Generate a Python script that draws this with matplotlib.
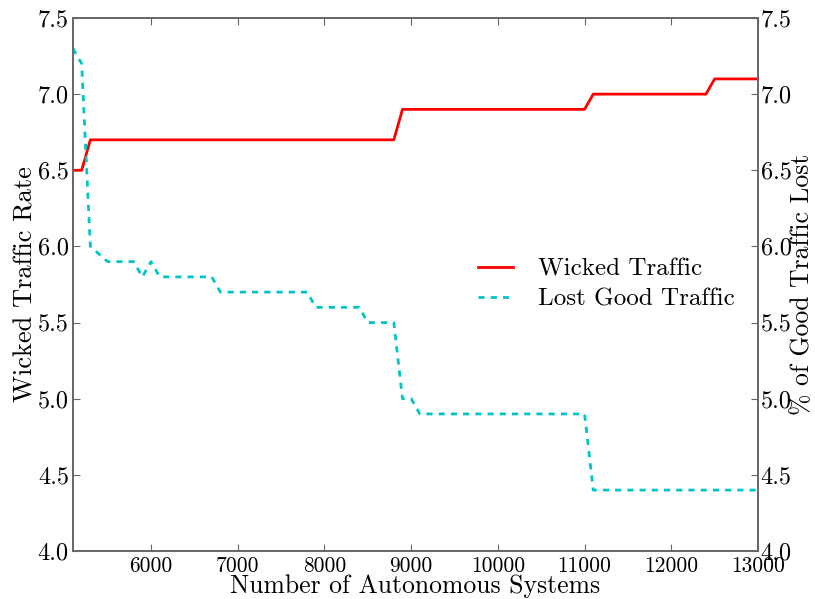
import matplotlib
matplotlib.use("Agg")
import matplotlib.pyplot as plt
from matplotlib.ticker import FormatStrFormatter, FixedLocator

plt.rcParams['font.family'] = 'serif'
plt.rcParams['font.serif'] = ['cmr10', 'DejaVu Serif']
plt.rcParams['mathtext.fontset'] = 'cm'
plt.rcParams['axes.unicode_minus'] = False

# data
x_wicked = [5100, 5200, 5300, 8800, 8900, 11000, 11100, 12400, 12500, 13000]
wicked = [6.5, 6.5, 6.7, 6.7, 6.9, 6.9, 7.0, 7.0, 7.1, 7.1]

x_lost = [5100, 5200, 5300, 5500, 5800, 5900, 6000, 6100, 6700, 6800, 7800,
          7900, 8400, 8500, 8800, 8900, 9000, 9100, 11000, 11100, 13000]
lost = [7.3, 7.2, 6.0, 5.9, 5.9, 5.8, 5.9, 5.8, 5.8, 5.7, 5.7,
        5.6, 5.6, 5.5, 5.5, 5.0, 5.0, 4.9, 4.9, 4.4, 4.4]

x_ticks = [6000, 7000, 8000, 9000, 10000, 11000, 12000, 13000]
y_ticks = [4.0, 4.5, 5.0, 5.5, 6.0, 6.5, 7.0, 7.5]

fig = plt.figure(figsize=(8.15, 5.99), dpi=100)
ax = fig.add_axes([73/815, 1-551/599, (758-73)/815, (551-18)/599])
ax2 = ax.twinx()

spine_col = '#666666'
for a in (ax, ax2):
    for s in a.spines.values():
        s.set_color(spine_col)
        s.set_linewidth(1.2)

l1, = ax.plot(x_wicked, wicked, color='#ff0000', lw=2, label='Wicked Traffic')
l2, = ax2.plot(x_lost, lost, color='#00c5c5', lw=2, ls=(0, (2.2, 2.2)),
               label='Lost Good Traffic')

ax.set_xlim(5100, 13000)
ax.set_ylim(4.0, 7.5)
ax2.set_ylim(4.0, 7.5)
ax.xaxis.set_major_locator(FixedLocator(x_ticks))
ax.yaxis.set_major_locator(FixedLocator(y_ticks))
ax2.yaxis.set_major_locator(FixedLocator(y_ticks))
ax.yaxis.set_major_formatter(FormatStrFormatter('%.1f'))
ax2.yaxis.set_major_formatter(FormatStrFormatter('%.1f'))

ax.tick_params(axis='x', direction='in', top=True, length=5, color=spine_col,
               labelsize=15.5, pad=4)
ax.tick_params(axis='y', direction='in', length=5, color=spine_col,
               labelsize=17.5, pad=3)
ax2.tick_params(axis='y', direction='in', length=5, color=spine_col,
                labelsize=17.5, pad=2)

ax.set_xlabel('Number of Autonomous Systems', fontsize=18.5, labelpad=-1)
ax.set_ylabel('Wicked Traffic Rate', fontsize=19, labelpad=0)
ax2.set_ylabel('% of Good Traffic Lost', fontsize=18.5, labelpad=-1)

ax.legend([l1, l2], [l1.get_label(), l2.get_label()], loc='center',
          bbox_to_anchor=(0.778, 0.5), frameon=False, fontsize=18,
          handlelength=1.4, handletextpad=1.0, labelspacing=0.3)

fig.savefig('out.png', dpi=100)
